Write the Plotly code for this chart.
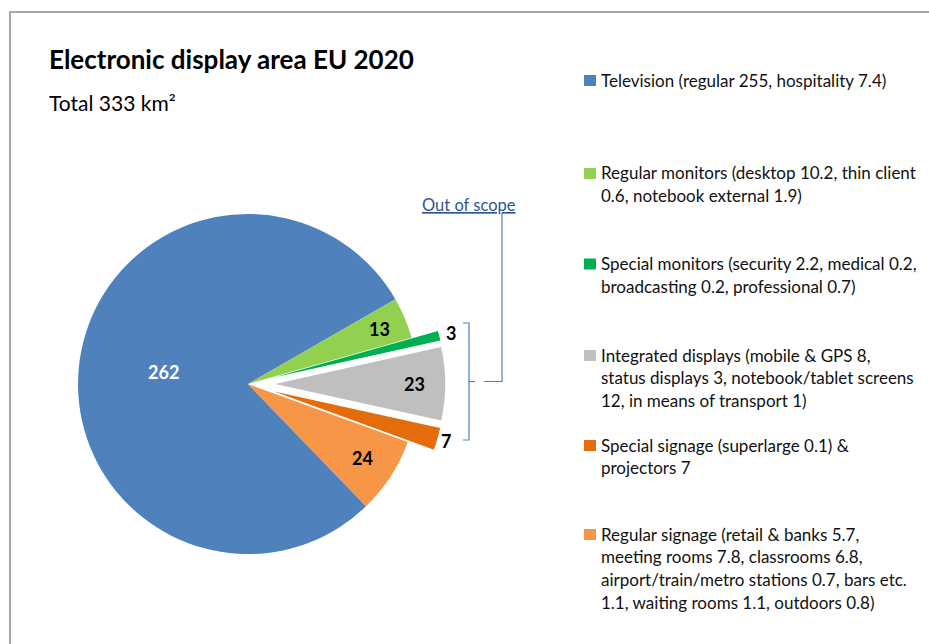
import math
import plotly.graph_objects as go

# ---- data -------------------------------------------------------------
categories = [
    "Television",
    "Regular monitors",
    "Special monitors",
    "Integrated displays",
    "Special signage & projectors",
    "Regular signage",
]
areas_km2 = [262, 13, 3, 23, 7, 24]
slice_colors = ["#4F81BD", "#92D050", "#00B050", "#BFBFBF", "#E46C0A", "#F79646"]
slice_pull = [0, 0, 0.16, 0.16, 0.16, 0]

legend_lines = [
    ["Television (regular 255, hospitality 7.4)"],
    ["Regular monitors (desktop 10.2, thin client",
     "0.6, notebook external 1.9)"],
    ["Special monitors (security 2.2, medical 0.2,",
     "broadcasting 0.2, professional 0.7)"],
    ["Integrated displays (mobile & GPS 8,",
     "status displays 3, notebook/tablet screens",
     "12, in means of transport 1)"],
    ["Special signage (superlarge 0.1) &",
     "projectors 7"],
    ["Regular signage (retail & banks 5.7,",
     "meeting rooms 7.8, classrooms 6.8,",
     "airport/train/metro stations 0.7, bars etc.",
     "1.1, waiting rooms 1.1, outdoors 0.8)"],
]

# ---- layout constants -------------------------------------------------
W, H = 929, 644
FONT = "Lato, 'Open Sans', sans-serif"
CX, CY, R = 248, 384, 170          # pie centre and radius in px
ROTATION = 136                      # start of first slice, degrees clockwise from 12 o'clock
max_pull = max(slice_pull)
box = 2 * R * (1 + max_pull)        # plotly shrinks radius by (1 + max pull)

# label distance from the (pulled) slice centre, as a fraction of the radius
label_radius = [0.5, 0.84, 1.07, 0.82, 1.05, 0.8]
label_colors = ["white", "black", "black", "black", "black", "black"]
legend_first_line_y = [80, 173, 263.5, 355, 445, 534]
LINE_STEP = 22.8


def px(x):
    return x / W


def py(y):
    return 1 - y / H


fig = go.Figure(
    go.Pie(
        labels=categories,
        values=areas_km2,
        marker=dict(colors=slice_colors, line=dict(width=0)),
        pull=slice_pull,
        sort=False,
        direction="clockwise",
        rotation=ROTATION,
        textinfo="none",
        hoverinfo="label+value",
        showlegend=False,
        domain=dict(x=[px(CX - box / 2), px(CX + box / 2)],
                    y=[py(CY + box / 2), py(CY - box / 2)]),
    )
)

annotations = []
shapes = []

# value labels placed at each slice's mid angle
total = sum(areas_km2)
start = ROTATION
for val, pull, frac, col in zip(areas_km2, slice_pull, label_radius, label_colors):
    sweep = val / total * 360
    mid = math.radians(start + sweep / 2)
    ox = CX + pull * R * math.sin(mid)
    oy = CY - pull * R * math.cos(mid)
    lx = ox + frac * R * math.sin(mid)
    ly = oy - frac * R * math.cos(mid)
    annotations.append(dict(
        x=px(lx), y=py(ly), xref="paper", yref="paper", showarrow=False,
        text=f"<b>{val}</b>", font=dict(family=FONT, size=18, color=col),
        xanchor="center", yanchor="middle"))
    start += sweep

# title block
annotations.append(dict(
    x=px(47), y=py(59), xref="paper", yref="paper", showarrow=False,
    text="<b>Electronic display area EU 2020</b>",
    font=dict(family=FONT, size=26, color="black"),
    xanchor="left", yanchor="middle"))
annotations.append(dict(
    x=px(47), y=py(102), xref="paper", yref="paper", showarrow=False,
    text="Total 333 km²", font=dict(family=FONT, size=21, color="black"),
    xanchor="left", yanchor="middle"))

# legend: colour key plus wrapped description lines
for col, lines, y0 in zip(slice_colors, legend_lines, legend_first_line_y):
    shapes.append(dict(type="rect", xref="paper", yref="paper",
                       x0=px(584), x1=px(596), y0=py(y0 - 5), y1=py(y0 + 6),
                       fillcolor=col, line=dict(width=0)))
    for i, line in enumerate(lines):
        annotations.append(dict(
            x=px(599), y=py(y0 + i * LINE_STEP), xref="paper", yref="paper",
            showarrow=False, text=line,
            font=dict(family=FONT, size=17, color="#111111"),
            xanchor="left", yanchor="middle"))

# "Out of scope" callout with bracket around the pulled slices
annotations.append(dict(
    x=px(469), y=py(205), xref="paper", yref="paper", showarrow=False,
    text="<u>Out of scope</u>", font=dict(family=FONT, size=16.5, color="#2F5597"),
    xanchor="center", yanchor="middle"))
bracket = dict(color="#4F81BD", width=1.2)
shapes += [
    dict(type="path", xref="paper", yref="paper",
         path=f"M {px(502)} {py(213)} L {px(502)} {py(381.5)} L {px(484)} {py(381.5)}",
         line=bracket),
    dict(type="path", xref="paper", yref="paper",
         path=(f"M {px(463)} {py(323)} L {px(469)} {py(323)} L {px(469)} {py(440)} "
               f"L {px(463)} {py(440)}"),
         line=bracket),
    dict(type="line", xref="paper", yref="paper",
         x0=px(469), x1=px(475), y0=py(381.5), y1=py(381.5), line=bracket),
    # chart frame
    dict(type="rect", xref="paper", yref="paper",
         x0=px(10), x1=1.2, y0=-0.2, y1=py(12),
         line=dict(color="#A6A6A6", width=2), fillcolor="rgba(0,0,0,0)"),
]

fig.update_layout(
    width=W, height=H,
    margin=dict(l=0, r=0, t=0, b=0),
    paper_bgcolor="white", plot_bgcolor="white",
    annotations=annotations, shapes=shapes,
    font=dict(family=FONT),
)

fig.write_html("out.html")
